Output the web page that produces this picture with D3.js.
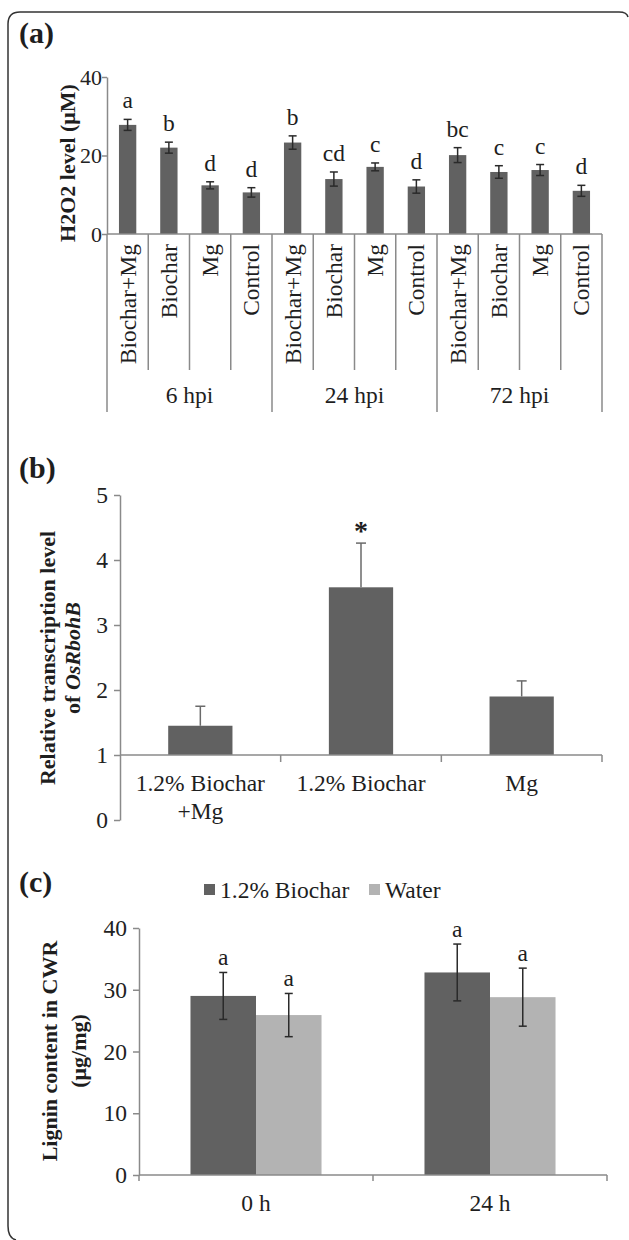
<!DOCTYPE html>
<html>
<head>
<meta charset="utf-8">
<script src="https://cdn.jsdelivr.net/npm/d3@7"></script>
<style>
  html, body { margin: 0; padding: 0; background: #fff; }
  svg { display: block; font-family: "Liberation Serif", "Times New Roman", serif; }
  .axis path, .axis line { stroke: #8a8a8a; stroke-width: 1.5; }
  .axis text { fill: #222; }
</style>
</head>
<body>
<svg id="fig" width="629" height="1240"></svg>
<script>
'use strict';

// panel (a) H2O2 level
const timePoints = ['6 hpi', '24 hpi', '72 hpi'];
const treatments = ['Biochar+Mg', 'Biochar', 'Mg', 'Control'];
const h2o2Mean = [27.8, 22.0, 12.4, 10.6, 23.3, 14.0, 17.1, 12.1, 20.1, 15.8, 16.3, 11.0];
const h2o2Err = [1.4, 1.4, 0.9, 1.2, 1.7, 1.8, 1.0, 1.7, 1.9, 1.6, 1.4, 1.4];
const h2o2Letters = ['a', 'b', 'd', 'd', 'b', 'cd', 'c', 'd', 'bc', 'c', 'c', 'd'];
const h2o2Ticks = [0, 20, 40];

// panel (b) OsRbohB transcription
const rbohLabels = [['1.2% Biochar', '+Mg'], ['1.2% Biochar'], ['Mg']];
const rbohMean = [1.45, 3.58, 1.90];
const rbohErr = [0.30, 0.68, 0.24];
const rbohSig = ['', '*', ''];
const rbohTicks = [0, 1, 2, 3, 4, 5];

// panel (c) lignin content
const ligninTimes = ['0 h', '24 h'];
const ligninSeries = ['1.2% Biochar', 'Water'];
const ligninBiochar = [29.0, 32.8];
const ligninWater = [25.9, 28.8];
const ligninBiocharErr = [3.8, 4.6];
const ligninWaterErr = [3.5, 4.7];
const ligninLetters = [['a', 'a'], ['a', 'a']];
const ligninTicks = [0, 10, 20, 30, 40];

const dark = '#616161';
const light = '#b3b3b3';
const axisGray = '#8a8a8a';
const ink = '#1e1e1e';
const fs = 23.5;

const svg = d3.select('#fig');

// frame round the figure
svg.append('path')
  .attr('d', 'M628,17 Q627,12 619,12 H20 Q8,12 8,24 V1226 Q8,1238 16,1240')
  .attr('fill', 'none')
  .attr('stroke', '#333')
  .attr('stroke-width', 1.5);

function panelLabel(txt, x, y) {
  svg.append('text')
    .attr('x', x).attr('y', y)
    .attr('font-size', 30).attr('font-weight', 'bold')
    .attr('fill', ink)
    .text(txt);
}

function yTitle(lines, x0, yc, gap) {
  var t = svg.append('text')
    .attr('transform', `translate(${x0},${yc}) rotate(-90)`)
    .attr('text-anchor', 'middle')
    .attr('font-size', 22).attr('font-weight', 'bold')
    .attr('fill', ink);
  lines.forEach((parts, i) => {
    var ts = t.append('tspan').attr('x', 0).attr('y', i * gap);
    parts.forEach(p => ts.append('tspan').attr('font-style', p.italic ? 'italic' : null).text(p.text));
  });
}

function styleAxis(g, size) {
  g.attr('class', 'axis').attr('font-family', null).attr('font-size', size);
  g.selectAll('text').attr('font-size', size);
  g.selectAll('path, line').attr('stroke', axisGray);
}

// ---------- (a) ----------
(function () {
  const left = 107, right = 602, top = 77, base = 234;
  const keys = [];
  timePoints.forEach(t => treatments.forEach(tr => keys.push(t + '|' + tr)));
  const rows = keys.map((k, i) => ({ key: k, time: k.split('|')[0], treat: k.split('|')[1],
    mean: h2o2Mean[i], err: h2o2Err[i], letter: h2o2Letters[i] }));

  const x = d3.scaleBand().domain(keys).range([left, right]).paddingInner(0.58).paddingOuter(0.29);
  const y = d3.scaleLinear().domain([0, 40]).range([base, top]);
  const gap = (x.step() - x.bandwidth()) / 2;

  panelLabel('(a)', 19, 43);

  var ga = svg.append('g').attr('transform', `translate(${left},0)`)
    .call(d3.axisLeft(y).tickValues(h2o2Ticks).tickFormat(d3.format('d')).tickSize(5).tickSizeOuter(0).tickPadding(0));
  styleAxis(ga, 22);

  svg.append('g').selectAll('rect').data(rows).join('rect')
    .attr('x', d => x(d.key)).attr('width', x.bandwidth())
    .attr('y', d => y(d.mean)).attr('height', d => y(0) - y(d.mean))
    .attr('fill', dark);

  // error bars
  var eb = svg.append('g').attr('stroke', '#2a2a2a').attr('stroke-width', 1.5);
  rows.forEach(d => {
    var cx = x(d.key) + x.bandwidth() / 2;
    eb.append('line').attr('x1', cx).attr('x2', cx).attr('y1', y(d.mean + d.err)).attr('y2', y(d.mean - d.err));
    [d.mean + d.err, d.mean - d.err].forEach(v =>
      eb.append('line').attr('x1', cx - 4).attr('x2', cx + 4).attr('y1', y(v)).attr('y2', y(v)));
  });

  svg.append('g').selectAll('text').data(rows).join('text')
    .attr('x', d => x(d.key) + x.bandwidth() / 2)
    .attr('y', d => y(d.mean + d.err) - 11)
    .attr('text-anchor', 'middle').attr('font-size', fs).attr('fill', ink)
    .text(d => d.letter);

  // category axis with separators
  var cg = svg.append('g').attr('stroke', axisGray).attr('stroke-width', 1.5);
  cg.append('line').attr('x1', left).attr('x2', right).attr('y1', base).attr('y2', base);
  keys.forEach((k, i) => {
    var bx = x(k) - gap;
    var groupEdge = i % treatments.length === 0;
    cg.append('line').attr('x1', bx).attr('x2', bx).attr('y1', base).attr('y2', groupEdge ? 412 : 370);
  });
  cg.append('line').attr('x1', right).attr('x2', right).attr('y1', base).attr('y2', 412);

  svg.append('g').selectAll('text').data(rows).join('text')
    .attr('transform', d => `translate(${x(d.key) + x.bandwidth() / 2 + 8},244) rotate(-90)`)
    .attr('text-anchor', 'end').attr('font-size', fs).attr('fill', ink)
    .text(d => d.treat);

  svg.append('g').selectAll('text').data(timePoints).join('text')
    .attr('x', t => x(t + '|' + treatments[0]) - gap + x.step() * treatments.length / 2)
    .attr('y', 403)
    .attr('text-anchor', 'middle').attr('font-size', fs).attr('fill', ink)
    .text(t => t);

  yTitle([[{ text: 'H2O2 level (μM)' }]], 75, 163, 0);
})();

// ---------- (b) ----------
(function () {
  const left = 120, right = 602, top = 495, bottom = 820;
  const x = d3.scaleBand().domain(d3.range(rbohMean.length)).range([left, right]).paddingInner(0.6).paddingOuter(0.3);
  const y = d3.scaleLinear().domain([0, 5]).range([bottom, top]);
  const gap = (x.step() - x.bandwidth()) / 2;

  panelLabel('(b)', 19, 478);

  var ga = svg.append('g').attr('transform', `translate(${left},0)`)
    .call(d3.axisLeft(y).tickValues(rbohTicks).tickFormat(d3.format('d')).tickSize(6).tickSizeOuter(0).tickPadding(6));
  styleAxis(ga, fs);

  svg.append('g').selectAll('rect').data(rbohMean).join('rect')
    .attr('x', (d, i) => x(i)).attr('width', x.bandwidth())
    .attr('y', d => y(d)).attr('height', d => y(1) - y(d))
    .attr('fill', dark);

  var eb = svg.append('g').attr('stroke', '#6a6a6a').attr('stroke-width', 1.5);
  rbohMean.forEach((m, i) => {
    var cx = x(i) + x.bandwidth() / 2;
    eb.append('line').attr('x1', cx).attr('x2', cx).attr('y1', y(m)).attr('y2', y(m + rbohErr[i]));
    eb.append('line').attr('x1', cx - 5).attr('x2', cx + 5).attr('y1', y(m + rbohErr[i])).attr('y2', y(m + rbohErr[i]));
  });

  // baseline at 1 with downward ticks
  var cg = svg.append('g').attr('stroke', axisGray).attr('stroke-width', 1.5);
  cg.append('line').attr('x1', left).attr('x2', right).attr('y1', y(1)).attr('y2', y(1));
  rbohMean.forEach((m, i) => {
    var bx = x(i) + x.bandwidth() + gap;
    cg.append('line').attr('x1', bx).attr('x2', bx).attr('y1', y(1)).attr('y2', y(1) + 7);
  });

  svg.append('g').selectAll('text').data(rbohSig).join('text')
    .attr('x', (d, i) => x(i) + x.bandwidth() / 2)
    .attr('y', (d, i) => y(rbohMean[i] + rbohErr[i]) - 3)
    .attr('text-anchor', 'middle').attr('font-size', 28).attr('font-weight', 'bold').attr('fill', ink)
    .text(d => d);

  var lab = svg.append('g').attr('font-size', fs).attr('fill', ink).attr('text-anchor', 'middle');
  rbohLabels.forEach((lines, i) => {
    lines.forEach((l, j) => lab.append('text')
      .attr('x', x(i) + x.bandwidth() / 2).attr('y', 791 + j * 28).text(l));
  });

  yTitle([[{ text: 'Relative transcription level' }], [{ text: 'of ' }, { text: 'OsRbohB', italic: true }]], 55, 658, 25);
})();

// ---------- (c) ----------
(function () {
  const left = 139, right = 607, top = 928, bottom = 1175;
  const x0 = d3.scaleBand().domain(ligninTimes).range([left, right]).paddingInner(0.44).paddingOuter(0.22);
  const x1 = d3.scaleBand().domain(ligninSeries).range([0, x0.bandwidth()]);
  const y = d3.scaleLinear().domain([0, 40]).range([bottom, top]);
  const color = d3.scaleOrdinal().domain(ligninSeries).range([dark, light]);
  const means = [ligninBiochar, ligninWater];
  const errs = [ligninBiocharErr, ligninWaterErr];

  const rows = [];
  ligninTimes.forEach((t, i) => ligninSeries.forEach((s, j) =>
    rows.push({ time: t, series: s, mean: means[j][i], err: errs[j][i], letter: ligninLetters[i][j] })));

  panelLabel('(c)', 19, 892);

  // legend
  var lg = svg.append('g').attr('font-size', fs).attr('fill', ink);
  var lx = [204, 369];
  ligninSeries.forEach((s, j) => {
    lg.append('rect').attr('x', lx[j]).attr('y', 884).attr('width', 11).attr('height', 11).attr('fill', color(s));
    lg.append('text').attr('x', lx[j] + 16).attr('y', 898).text(s);
  });

  var ga = svg.append('g').attr('transform', `translate(${left},0)`)
    .call(d3.axisLeft(y).tickValues(ligninTicks).tickSize(6).tickSizeOuter(0).tickPadding(6));
  styleAxis(ga, fs);

  svg.append('g').selectAll('rect').data(rows).join('rect')
    .attr('x', d => x0(d.time) + x1(d.series)).attr('width', x1.bandwidth())
    .attr('y', d => y(d.mean)).attr('height', d => y(0) - y(d.mean))
    .attr('fill', d => color(d.series));

  var eb = svg.append('g').attr('stroke', '#2a2a2a').attr('stroke-width', 1.5);
  rows.forEach(d => {
    var cx = x0(d.time) + x1(d.series) + x1.bandwidth() / 2;
    eb.append('line').attr('x1', cx).attr('x2', cx).attr('y1', y(d.mean + d.err)).attr('y2', y(d.mean - d.err));
    [d.mean + d.err, d.mean - d.err].forEach(v =>
      eb.append('line').attr('x1', cx - 4).attr('x2', cx + 4).attr('y1', y(v)).attr('y2', y(v)));
  });

  svg.append('g').selectAll('text').data(rows).join('text')
    .attr('x', d => x0(d.time) + x1(d.series) + x1.bandwidth() / 2)
    .attr('y', d => y(d.mean + d.err) - 7)
    .attr('text-anchor', 'middle').attr('font-size', fs).attr('fill', ink)
    .text(d => d.letter);

  var gap = (x0.step() - x0.bandwidth()) / 2;
  var cg = svg.append('g').attr('stroke', axisGray).attr('stroke-width', 1.5);
  cg.append('line').attr('x1', left).attr('x2', right).attr('y1', bottom).attr('y2', bottom);
  [left].concat(ligninTimes.map(t => x0(t) + x0.bandwidth() + gap)).forEach(bx =>
    cg.append('line').attr('x1', bx).attr('x2', bx).attr('y1', bottom).attr('y2', bottom + 6));

  svg.append('g').selectAll('text').data(ligninTimes).join('text')
    .attr('x', t => x0(t) + x0.bandwidth() / 2).attr('y', 1211)
    .attr('text-anchor', 'middle').attr('font-size', fs).attr('fill', ink)
    .text(t => t);

  yTitle([[{ text: 'Lignin content in CWR' }], [{ text: '(μg/mg)' }]], 57, 1051, 29);
})();
</script>
</body>
</html>
